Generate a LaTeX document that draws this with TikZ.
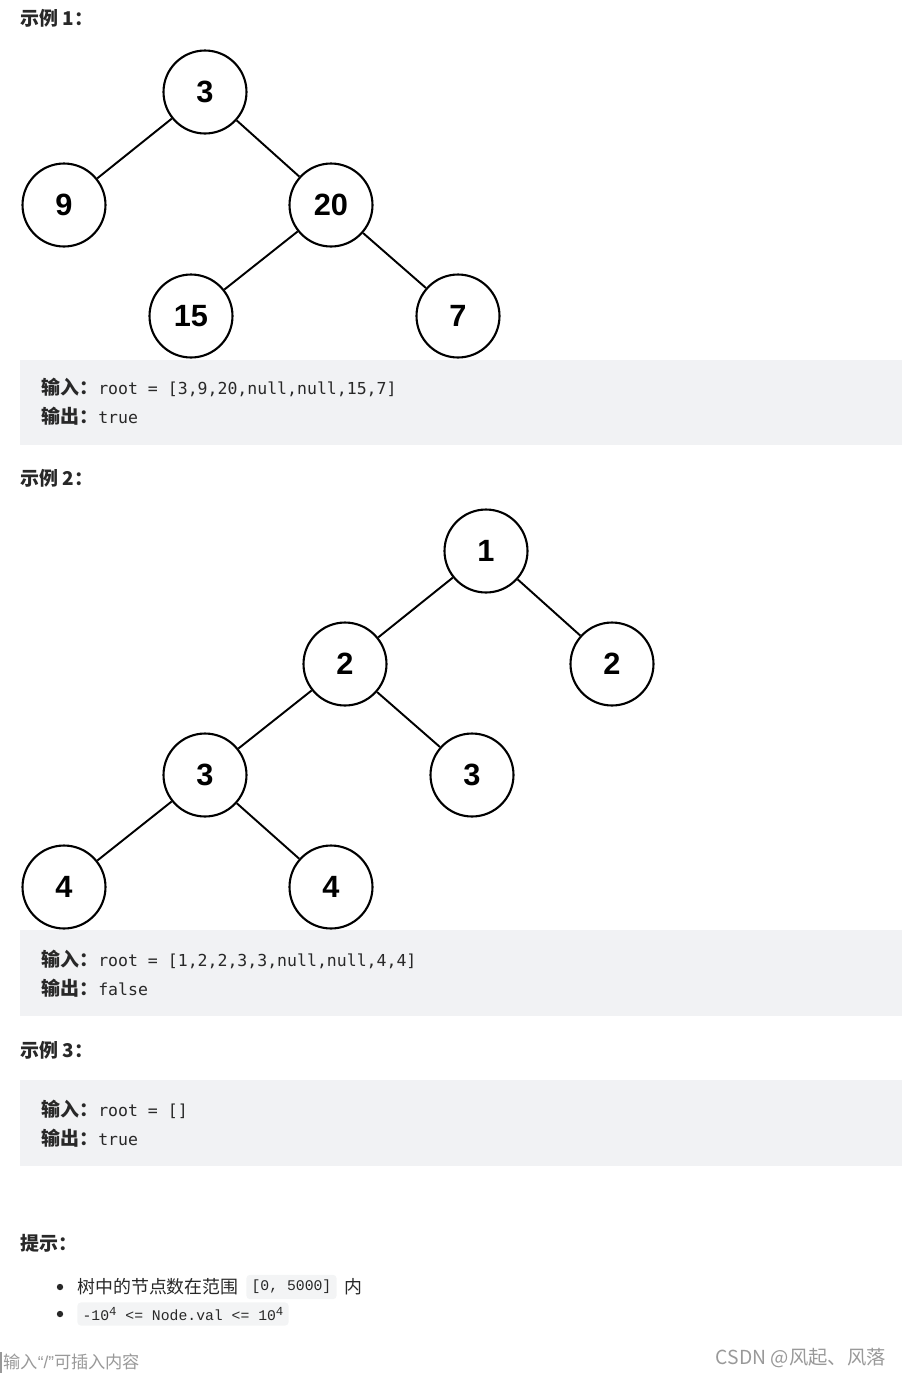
\documentclass[tikz,border=0pt]{standalone}
\usepackage{fontspec}
\usepackage{tikz}
\setmainfont{Liberation Sans}
\newfontfamily\cjk{Noto Sans CJK SC}
\newfontfamily\codefont{DejaVu Sans Mono}
\newfontfamily\tipmono{Liberation Mono}
\usetikzlibrary{positioning, calc}

\definecolor{boxgray}{RGB}{241,242,244}
\definecolor{tipgray}{RGB}{243,244,245}
\definecolor{inkgray}{RGB}{153,153,153}
\definecolor{textdark}{RGB}{40,40,40}

\newcommand{\inlabel}[1]{{\cjk\fontsize{10.8}{13}\selectfont\bfseries #1}}
\newcommand{\incode}[1]{{\codefont\fontsize{9.4}{12}\selectfont #1}}
\newcommand{\powfour}{\raisebox{0.55ex}{\fontsize{7}{8}\selectfont 4}}

\begin{document}
\begin{tikzpicture}[x=0.02cm, y=-0.02cm,
    treenode/.style={circle, draw, line width=1.2pt, minimum size=1.66cm, inner sep=0pt,
        font=\fontsize{17.5}{20}\selectfont\bfseries},
    edge/.style={line width=1.1pt},
    heading/.style={anchor=west, inner sep=0pt, text=textdark, font=\cjk\fontsize{10.8}{13}\selectfont\bfseries},
    ioline/.style={anchor=west, inner sep=0pt, text=textdark},
    tipcode/.style={fill=tipgray, rounded corners=2pt, inner xsep=3pt, inner ysep=3pt,
        font=\tipmono\fontsize{8.4}{10}\selectfont, text=textdark}]

    % Page
    \useasboundingbox (0,0) rectangle (902,1377);

    % Example 1
    \node[heading] (H1) at (20,18) {示例 1：};
    \node[treenode] (A3)  at (205,92)  {3};
    \node[treenode] (A9)  at (64,205)  {9};
    \node[treenode] (A20) at (331,205) {20};
    \node[treenode] (A15) at (191,316) {15};
    \node[treenode] (A7)  at (458,316) {7};
    \draw[edge] (A3) -- (A9);
    \draw[edge] (A3) -- (A20);
    \draw[edge] (A20) -- (A15);
    \draw[edge] (A20) -- (A7);

    \fill[boxgray] (20,360) rectangle (902,445);
    \node[ioline] (I1) at (41,387) {\inlabel{输入：}\incode{root = [3,9,20,null,null,15,7]}};
    \node[ioline] (O1) at (41,416) {\inlabel{输出：}\incode{true}};

    % Example 2
    \node[heading] (H2) at (20,478) {示例 2：};
    \node[treenode] (B1)  at (486,551) {1};
    \node[treenode] (B2l) at (345,664) {2};
    \node[treenode] (B2r) at (612,664) {2};
    \node[treenode] (B3l) at (205,775) {3};
    \node[treenode] (B3r) at (472,775) {3};
    \node[treenode] (B4l) at (64,887)  {4};
    \node[treenode] (B4r) at (331,887) {4};
    \draw[edge] (B1) -- (B2l);
    \draw[edge] (B1) -- (B2r);
    \draw[edge] (B2l) -- (B3l);
    \draw[edge] (B2l) -- (B3r);
    \draw[edge] (B3l) -- (B4l);
    \draw[edge] (B3l) -- (B4r);

    \fill[boxgray] (20,930) rectangle (902,1016);
    \node[ioline] (I2) at (41,959) {\inlabel{输入：}\incode{root = [1,2,2,3,3,null,null,4,4]}};
    \node[ioline] (O2) at (41,988) {\inlabel{输出：}\incode{false}};

    % Example 3
    \node[heading] (H3) at (20,1050) {示例 3：};
    \fill[boxgray] (20,1080) rectangle (902,1166);
    \node[ioline] (I3) at (41,1109) {\inlabel{输入：}\incode{root = []}};
    \node[ioline] (O3) at (41,1138) {\inlabel{输出：}\incode{true}};

    % Hints
    \node[heading] (H4) at (20,1243) {提示：};
    \fill[textdark] (60,1287) circle (3.2);
    \fill[textdark] (60,1314) circle (3.2);
    \node[ioline, font=\cjk\fontsize{10.2}{12}\selectfont] (T1) at (77,1287) {树中的节点数在范围};
    \node[tipcode, right=4pt of T1] (C1) {[0, 5000]};
    \node[ioline, right=4pt of C1, font=\cjk\fontsize{10.2}{12}\selectfont] (T2) {内};
    \node[tipcode, anchor=west] (C2) at (77,1314) {-10\powfour{} <= Node.val <= 10\powfour};

    % Footer
    \draw[inkgray, line width=0.6pt] (1,1352) -- (1,1373);
    \node[ioline, text=inkgray, font=\cjk\fontsize{9.8}{12}\selectfont] (F1) at (3,1362)
        {输入{\rmfamily“/”}可插入内容};
    \node[anchor=east, inner sep=0pt, text=inkgray, font=\cjk\fontsize{11}{13}\selectfont] (F2) at (886,1358) {CSDN @风起、风落};
\end{tikzpicture}
\end{document}
